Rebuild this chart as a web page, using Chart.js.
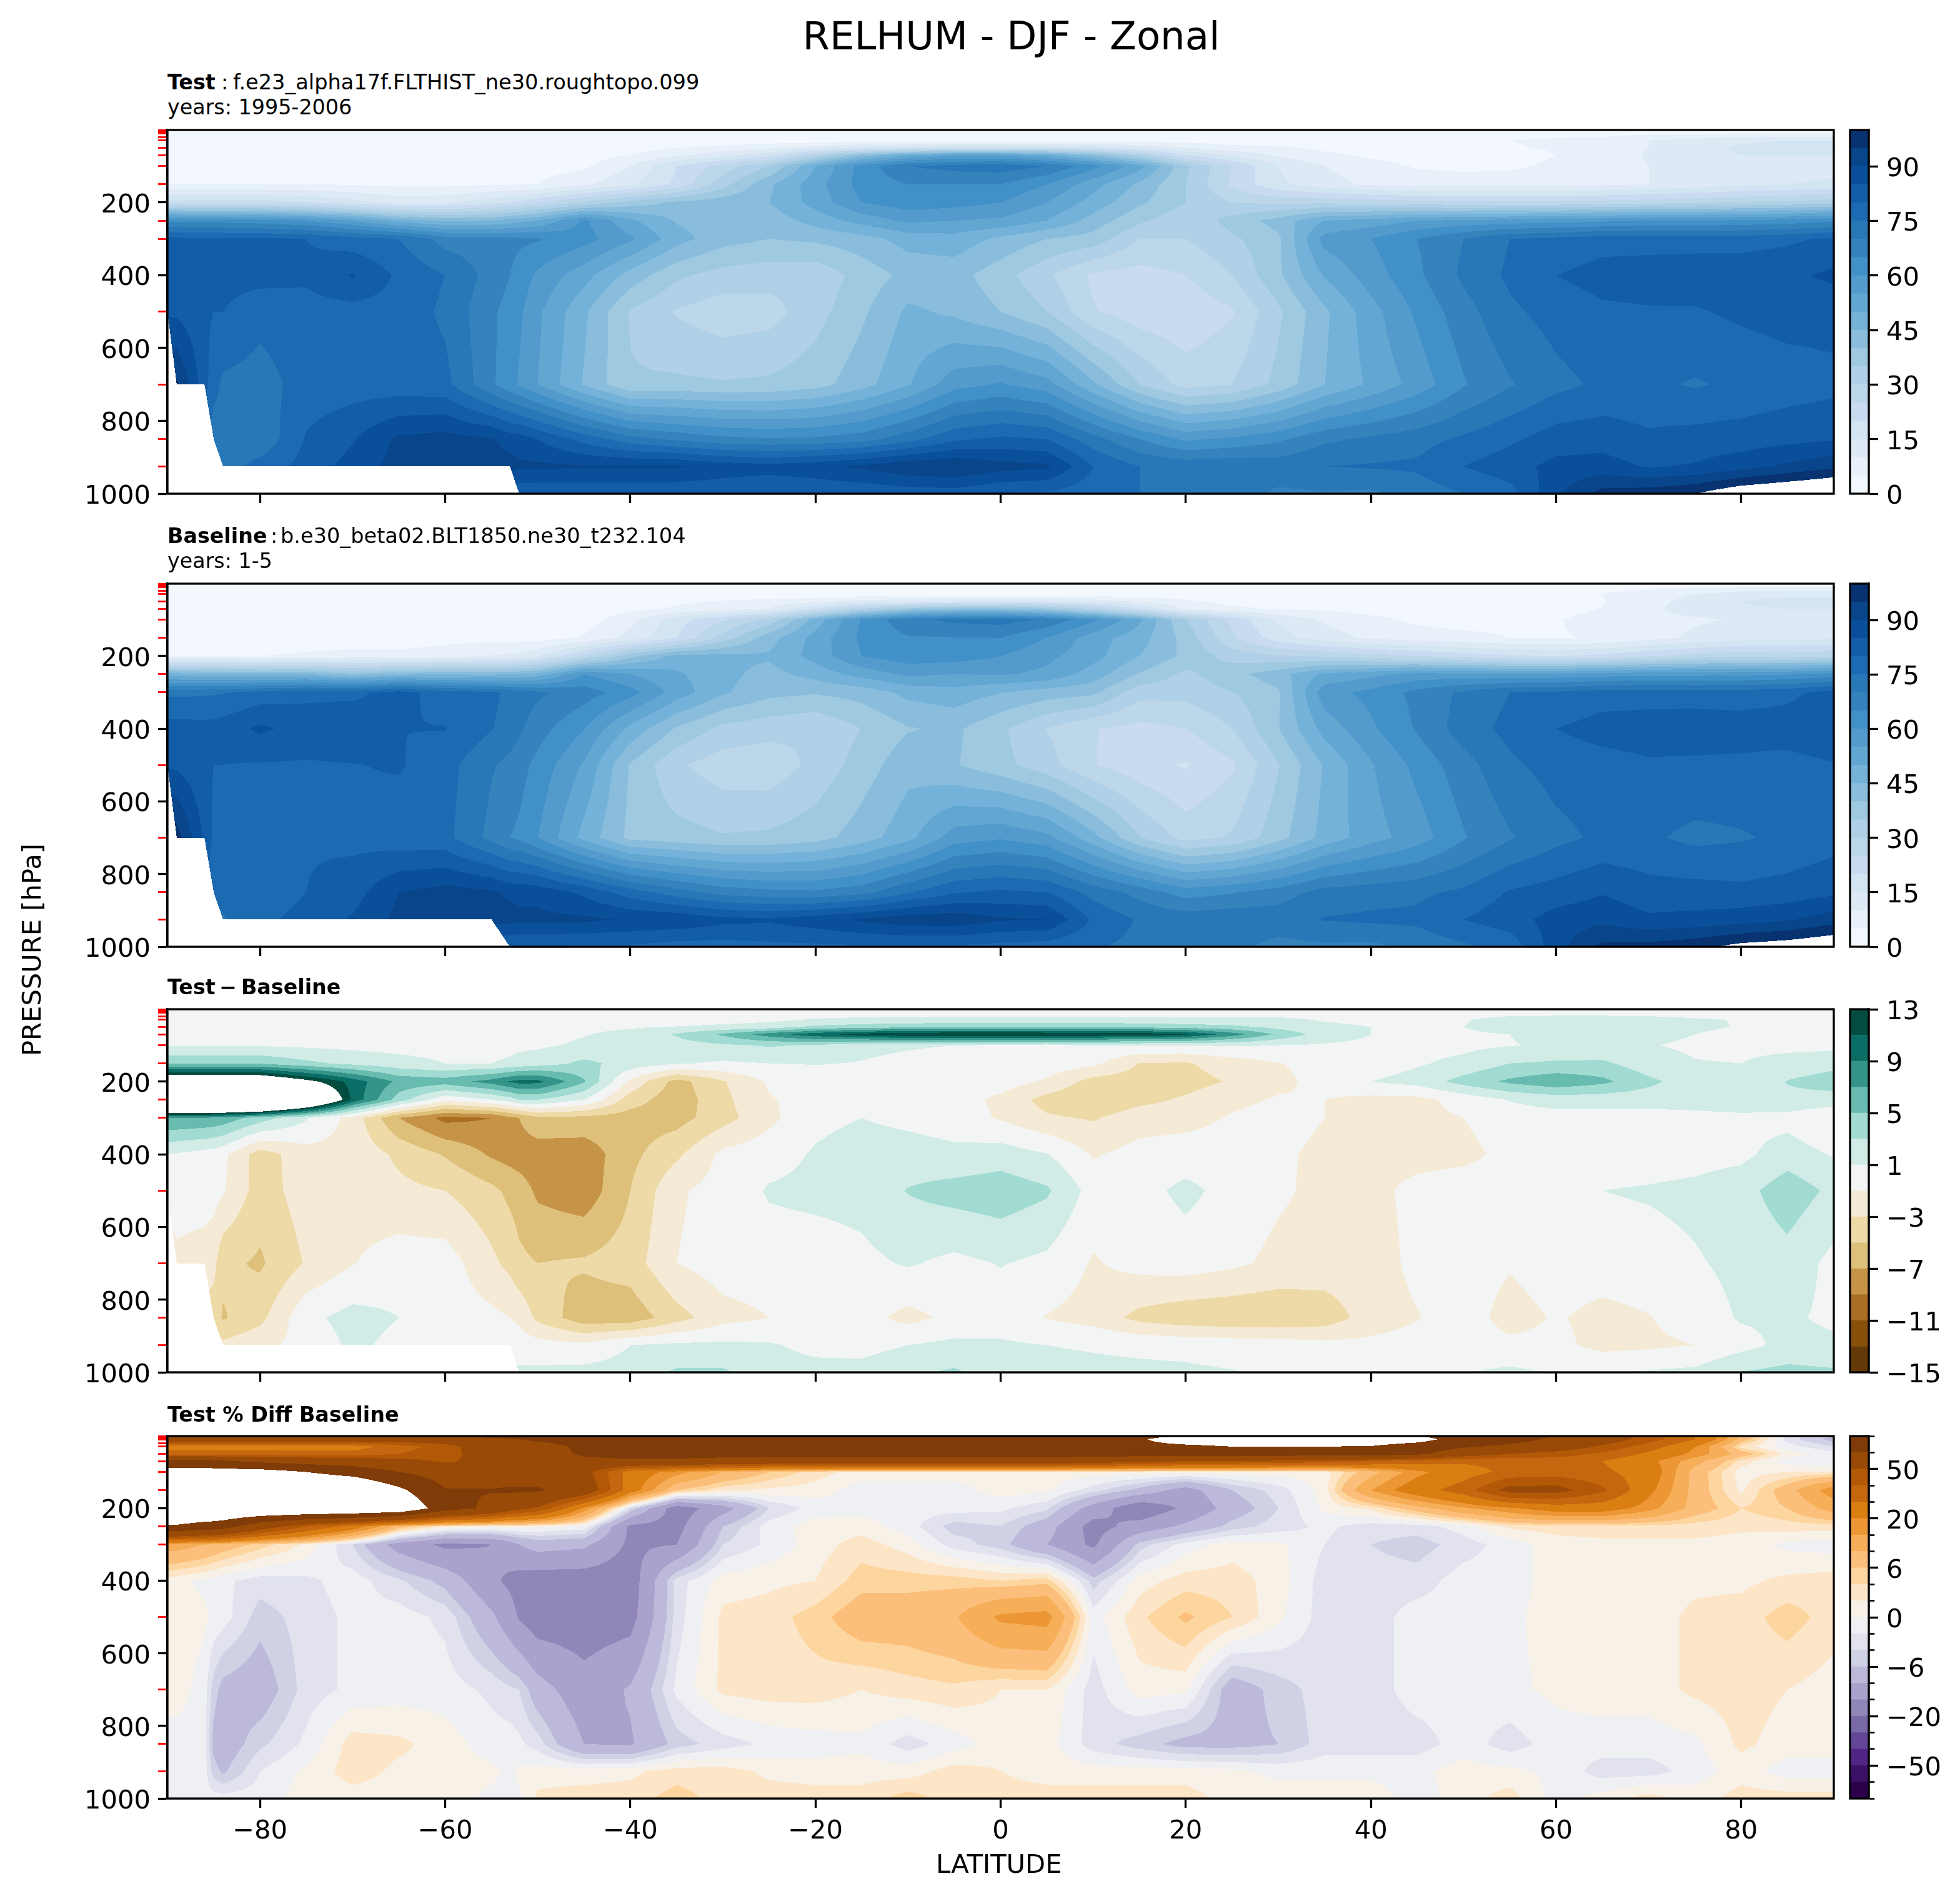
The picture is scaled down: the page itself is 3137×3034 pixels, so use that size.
<!DOCTYPE html>
<html>
<head>
<meta charset="utf-8">
<script src="https://cdn.jsdelivr.net/npm/chart.js@4"></script>
<style>
  body { margin: 0; background: #fff; width: 3137px; height: 3034px; position: relative; overflow: hidden; font-family: "DejaVu Sans"; }
  canvas { position: absolute; }
  .txt { position: absolute; white-space: pre; color: #000; }
</style>
</head>
<body>
<script>
const _ = null;
// grid of the zonal means
const lats = [-90,-89,-86,-85,-84,-80,-75,-70,-65,-60,-55,-53,-52,-50,-45,-40,-35,-30,-25,-20,-15,-10,-5,0,5,10,15,20,25,30,35,40,45,50,55,60,65,70,75,80,85,90];
const plevs = [1,10,30,50,70,100,150,200,250,300,400,500,700,850,925,1000];

const testRH = [
[1,1,1,1,1,1,1,1,1,1,1,1,1,1,1,1,1,1,1,1,1,1,1,1,1,1,1,1,1,1,1,1,1,2,2,2,2,2,3,3,3,3],
[1,1,1,1,1,1,1,1,1,1,1,1,1,1,1,1,1,1,1,1,2,2,2,2,2,2,2,2,1,1,1,1,1,2,2,3,3,4,4,5,5,5],
[1,1,1,1,1,1,1,1,1,1,1,1,1,1,1,1,1,1,2,2,3,3,3,3,3,3,3,3,2,2,2,2,2,3,5,6,7,10,12,14,15,15],
[1,1,1,1,1,1,1,1,1,1,1,1,1,1,2,3,5,7,9,12,16,18,20,20,20,18,14,10,7,6,4,3,3,3,4.5,5.5,6.5,10,13,16,17,17],
[2,2,2,2,2,2,2,2,2,2,2,2,2,2,3,5,9,13,18,30,42,50,54,54,50,42,32,20,14,9,6,4,3,2.5,3,5,7,10.5,13,15,15,15],
[2,2,2,2,2,2,2,2,2,2,2,2,2,3,4,10,20,27,35,50,62,70,72,73,70,62,52,36,25,15,10,7,4.5,3.5,4,6,8,10,10,11,12,13],
[5,5,5,5,5,5,5,4.5,4,4,4.5,4.6,4.7,5,9,14,21,33,44,53,62,65,65,65,60,52,44,35,24,16,12,9,8,8,8,8,9,10,12,14,15,16],
[22,22,22,22,22,22,20,17,13,14,18,20,21,24,31,37,41,43,45,52,60,63,62,60,55,48,41,35,30,29,29,28,27,26,26,26,27,28,29,30,31,33],
[64,64,63,63,63,62,60,55,48,44,45,47,48,50,61,51,44.5,43,42,47,52,56,55,54,50,43,36,31,37,42,50,52,55,56,57,58,59,60,60,61,62,64],
[81,81,81,81,81,81,80,77,75,68,67,66.5,66,65.5,62,56,47,42,40,41,43,47,48,44,40,38,30,30,34,39,57,60,65,70,75,76,78,78,78,78,79,81],
[83,83,82,82,82,82,81,85.5,79,75,68,65,63,59,52,43,36,33,32,31.5,37,41.5,42,37,31,24,23,25,30,39,50.5,57.5,64,71,76,80,82,82.5,83,83,84,86],
[84,84,81,80,80,76.5,78,78,78,74,66,63,61,56,46,34.5,29.5,27,28,33,39,46,44,40,35,25.5,22,21,24.5,34,44,53,61,68,74,77,79,79.5,79.5,81,82,82],
[_,96,82,77,74,73,77,77.5,77,76.5,66,61.5,59.5,55,44.5,35.5,36,35.5,36,38,43,49.5,58,60.5,57,46,35,28,30,36.5,45,51,57,64.5,69.5,73.5,76,76,74.5,76,77.5,78.5],
[_,_,_,72,72,71,80.5,84.5,91,92,90.5,88,87.5,85,78,72,69,66.5,65.5,66,68,73,79,81,80,72,65,59,61,64,69,71,73,76,79,82.5,83,81,82,82.5,83.5,84.5],
[_,_,_,_,72,77,82,87,92,93,92.5,92,91,91,90.5,90.5,90.5,88,87,88.5,91,94,95,92,91,80,75,73.5,74,73,75,75.5,76,80,83,86.5,87,84.5,85.5,88,91,94],
[_,_,_,_,_,_,_,_,_,_,_,_,81,81,81,81,81,81,80.5,80.5,81,82,82.5,80,79,77,75,73,72.5,69,69.5,69,72,75,78,89,97,98,100,105,107,109]
];

const baselineRH = [
[1,1,1,1,1,1,1,1,1,1,1,1,1,1,1,1,1,1,1,1,1,1,1,1,1,1,1,1,1,1,1,1,1,2,2,2,2,2,3,3,3,3],
[1,1,1,1,1,1,1,1,1,1,1,1,1,1,1,1,1,1,1,1,2,2,2,2,2,2,2,2,1,1,1,1,1,2,2,2,3,3,4,5,5,5],
[1,1,1,1,1,1,1,1,1,1,1,1,1,1,1,1,1,1,1,1,2,2,2,2,2,2,2,2,1,1,1,1,2,2,3,4,5,8,10,13,14,14],
[1,1,1,1,1,1,1,1,1,1,1,1,1,1,1.5,2,4,5.5,7,8.5,12,13.5,15,15,15,13,9.5,6,3.5,3.5,2.5,2,2,2,3,3.7,4.7,8.4,11.7,15,16.5,16.5],
[1.5,1.5,1.5,1.5,1.5,1.5,1.5,1.5,1.5,1.5,1.5,1.5,1.5,1.5,2,3.4,5.8,7.7,10,19.7,30,37.3,41,41,37.2,29.4,19.6,8.7,6,4.5,4,3,2.3,1.7,2,3.3,5.2,9,12,14.5,15,15],
[1,1,1,1,1,1,1.4,1.6,1.7,1.7,1.6,2,2,2.3,2.7,8.4,17.8,24.3,31.8,47.2,60.5,68.8,71.1,72.1,69.1,61,51,35,23.8,14,9.2,6.4,4,3,3.1,4.7,6.7,8.9,9.3,10.5,11.6,12.6],
[.3,.3,.3,.3,.3,.3,1.5,2,2.3,3,3.5,3.3,3.4,3,5.5,11.8,19.8,32.3,43,51.9,61.1,64.5,64.8,65,59.8,52.5,47.1,38.2,26,17.1,12.3,9,7.2,6.5,5,4.7,5.4,8.2,10.9,13,13.2,13.6],
[5,5,5,5,5,5,6,6.8,6.5,8,10.2,10.8,11.3,14.4,25.8,38.5,46.8,46.2,45.7,52,60,63,62.5,60,56.3,51.8,45,38.8,32.8,30.5,29.3,27,25.3,22.2,20.6,19.5,21.5,24.5,27.2,28.7,27.9,29.1],
[47,47,46,46,46,45,45,41,44,44.5,44,45,45,47,60,55,50.8,46.5,43.2,47,52,56,55,55.5,53.8,47.8,39.6,33.7,38.5,42.8,51,53.6,56.6,56.3,55.9,56.2,57.2,58.2,58,58.7,59.5,61.8],
[74,74,74.2,74.4,74.7,77,78.8,78.8,82,77.6,76,74,73,70.9,67.6,62,52.8,45.8,41.5,40.5,42,46.5,48,45.2,42.7,41.2,31.9,31.7,34.8,39.3,58,61.5,66.5,71,75,75.7,77.7,77.8,77.7,77.5,78.7,82],
[82,82.2,81.8,82,82.5,86,82.8,84,80,80.2,75.3,72.8,71,67.2,60.2,48.6,39.4,33.5,31.8,30.3,35.1,39.6,41,35.9,29.9,25.2,23.3,25,30,39.7,51.9,59.1,65.6,72.5,76.5,80,82,82.5,82.8,82.5,82.7,85.2],
[84.5,84,81,80,80,79.5,79.5,79.8,80.5,77,70.5,68.5,67,63.4,54.3,39.5,30.8,27.2,26.8,31.5,37.3,43.3,40.4,36.7,31.9,25.3,21.7,19.5,24.2,34.7,45.5,54.5,61.5,68,74,77,78,79.3,79,78.8,78,79.5],
[_,97.5,84,79,77,77.5,79.5,78.6,77,76.5,68.5,65,64,60,48.3,38.6,37,35.5,36,38,42.5,48.3,57.5,59.4,56.5,46.8,35.3,28,30.6,38,46.8,52.9,57.5,64.5,69.5,73.5,76,75.8,73.7,74.5,76,78],
[_,_,_,76,77,75.5,80,82.8,90,92,91,89,89,88.5,83.8,77.4,72.3,68.2,66.5,66,68.3,74.6,79.5,81,80,73.2,68.3,62.6,64.6,67.5,72,73,74,76,80.5,82.3,84.6,82.1,82,81.3,82.2,83.9],
[_,_,_,_,74.5,78.5,82.3,85.6,91.5,92.7,92.2,91.8,90.8,91.2,91,89.5,89.1,86.6,85.8,88,90.7,93,93.5,90.7,90,79.2,74.4,73,73.8,73,75.3,76,76.2,80,83,87,88.6,85.9,86.5,87.7,89.4,92.6],
[_,_,_,_,_,_,_,_,_,_,_,80,80,80,79.4,79.2,77.7,77.7,78.7,78.9,79.3,79.4,79.2,78.2,77.4,75.5,73.6,71.7,71.4,68.3,69,68.6,71.6,74.1,76.6,88.1,96.2,96.8,98.5,101.9,103.4,105.7]
];

const diffRH = [
[0,0,0,0,0,0,0,0,0,0,0,0,0,0,0,0,0,0,0,0,0,0,0,0,0,0,0,0,0,0,0,0,0,0,0,0,0,0,0,0,0,0],
[0,0,0,0,0,0,0,0,0,0,0,0,0,0,0,0,0,0,0,0,0,0,0,0,0,0,0,0,0,0,0,0,0,.3,.5,.6,.6,.5,.3,0,0,0],
[0,0,0,0,0,0,0,0,0,0,0,0,0,0,0,0,0,.2,.5,1.2,1.5,1.5,1.5,1.5,1.5,1.5,1.5,1.5,1.5,1.5,.8,.5,.5,.9,1.5,1.5,1.5,1.5,1.2,.9,.5,.5],
[0,0,0,0,0,0,0,0,0,0,0,0,0,0,.5,.8,1.1,1.5,2,3.5,4,4.5,4.8,4.8,4.8,4.8,4.5,4,3.5,2.5,1.5,1,.9,1,1.5,1.8,1.8,1.6,1.3,.9,.5,.5],
[.4,.4,.4,.4,.4,.4,.4,.4,.4,.4,.4,.4,.4,.4,.9,1.6,3.2,5.3,8,10.3,12,12.7,12.9,12.9,12.8,12.6,12.4,11.3,8,4.5,2,1,.7,.8,1,1.7,1.8,1.5,1,.5,.4,.4],
[.8,.8,.8,.8,.8,.8,.6,.4,.3,.3,.4,.5,.6,.7,1.3,1.6,2.2,2.7,3.2,2.8,1.5,1.2,1,.9,.9,1,1,1,1.2,1,.8,.6,.5,.5,.9,1.3,1.3,1.1,.7,.5,.4,.4],
[4.7,4.7,4.7,4.7,4.7,4.7,3.5,2.5,1.7,1,1,1.3,1.6,2,3.5,2.2,1.2,.7,1,1.1,.9,.5,.2,0,.2,-.5,-3.1,-3.2,-2,-1.1,-.3,0,.8,1.5,3,3.3,3.4,1.8,1.1,1,1.8,2.4],
[17.6,17.6,17.6,17.6,17.6,17.6,14,10.2,6.5,6,7.8,9.2,9.7,9.6,5.2,-1.5,-5.8,-3.2,-.7,0,0,0,-.5,0,-1.3,-3.8,-4,-3.8,-2.8,-1.5,-.3,1,1.7,3.8,5.4,6.5,5.5,3.5,1.8,1.3,3.1,3.9],
[30,30,30,30,30,30,22,10.5,4,-.5,1,2,3,3,1,-4,-6.3,-3.5,-1.2,0,0,0,0,-1.5,-3.8,-4.8,-3.6,-2.7,-1.5,-.8,-1,-1.6,-1.6,-.3,1.1,1.8,1.8,1.8,2,2.3,2.5,2.2],
[7,7,6.8,6.6,6.3,4,1.2,-1.8,-7,-9.6,-9,-7.5,-7,-5.4,-5.6,-6,-5.8,-3.8,-1.5,.5,1,.5,0,-1.2,-2.7,-3.2,-1.9,-1.7,-.8,-.3,-1,-1.5,-1.5,-1,0,.3,.3,.2,.3,.5,.3,-1],
[1,.8,.2,0,-.5,-4,-1.8,-1.6,-3.4,-5.2,-7.3,-7.8,-8,-8.2,-8.2,-5.6,-3.4,-.5,.2,1.2,1.9,1.9,1.5,2,1.1,-1.2,-.3,0,0,-.7,-1.4,-1.6,-1.6,-1.5,-.5,0,0,0,.2,.5,2,.8],
[-.5,0,0,-.2,-.8,-4,-2,-1.8,-2.5,-3,-4.5,-5.5,-6,-7.4,-8.3,-5,-1.3,-.2,1.2,1.5,1.7,3.1,3.8,4.2,3.3,.2,.3,1.5,.3,-.7,-1.5,-1.5,-.5,0,0,0,1,1.2,1.5,2.2,4.2,2.5],
[_,-1.5,-2,-2.4,-4.5,-5.3,-2.8,-1.1,0,0,-2.5,-3.6,-4.5,-5,-4.7,-4,-1,0,0,0,.5,1.2,.5,1.1,.5,-1.2,-.3,0,-.6,-1.5,-1.8,-1.9,-.5,0,-.8,0,0,.2,.8,1.5,2.2,.4],
[_,_,_,-4,-5.2,-3.6,.5,1.7,1,0,-.5,-1,-1.5,-3.5,-6.3,-6.3,-3.8,-1.7,-1,0,-.3,-1.6,-.5,0,-1.1,-1.8,-3.6,-4.4,-4.6,-4.7,-4.2,-2,-1.1,0,-1.8,-.8,-1.6,-1.1,0,1.2,1.3,.6],
[_,_,_,_,-2.5,-1.5,-.3,1.4,.5,.3,.3,.2,.2,-.2,-.5,1,1.4,1.4,1.2,.5,.3,1,1.5,1.3,1,.8,.6,.5,.2,0,-.3,-.5,-.2,0,-.5,-.5,-1.6,-1.4,-1,.3,1.6,1.4],
[_,_,_,_,_,_,_,_,_,_,_,_,1.3,1.4,1.6,1.8,3.3,3.3,1.8,1.6,1.7,2.6,3.3,1.8,1.6,1.5,1.4,1.3,1.1,.7,.5,.4,.4,.9,1.4,.9,.8,1.2,1.5,3.1,3.6,3.3]
];

const pctDiffRH = [
[85,85,85,85,85,85,85,85,85,85,85,88,88,90,92,92,92,92,92,92,92,92,92,92,92,92,95,100,105,105,105,103,100,90,85,75,60,45,30,10,-3,-6],
[60,60,60,60,60,60,60,60,60,60,65,72,75,80,85,90,92,92,92,92,92,92,92,92,92,92,98,110,112,112,112,112,108,90,85,70,58,45,30,8,-3,-7],
[25,25,25,25,25,25,25,25,35,45,60,62,63,65,80,88,90,90,90,90,90,90,90,90,90,92,95,96,100,100,100,99,90,78,70,60,48,35,20,3,-1,-4],
[34,34,34,34,34,34,34,34,40,47,55,58,60,65,78,85,85,85,85,85,85,85,85,85,85,85,85,85,85,85,85,85,80,60,50,45,38,28,18,8,1,-1],
[85,85,85,80,78,70,65,62,55,48,55,58,60,65,70,70,70,65,65,65,65,65,65,65,65,60,55,50,50,48,45,40,35,32,32,35,30,22,12,3,-1,-2],
[110,110,110,110,110,110,100,90,75,65,62,62,62,62,55,25,17,10,6,3,1,1,1,1,1,1,1,1,1,1,1,8,18,25,33,35,32,25,8,1,2,2],
[130,130,130,130,130,130,130,130,105,76,76,78,78,78,62,24,6,2.5,1.5,1,-1,-1,-1,1,.5,-3,-7,-12,-6,-3,1,15,25,35,55,55,42,22,8,1.5,8,18],
[130,130,130,130,130,130,130,130,125,85,70,58,54,48,18,-4,-18,-12,-4,-1,-.8,-1,-1,-1.5,-3.5,-12,-19,-14,-8,-4,.5,2.5,8,14,19,24,24,17,8,4,6,12],
[97,97,90,88,85,60,40,25,8,2,1,1,1,.5,-.5,-16,-17,-6,-1,1,1,-1,-5,-4,-8,-17,-13,-9,-5,-3,-1.5,-3,-3,-1,2.5,3,3,3,3,2.5,3,3],
[12,12,10,9,8,5,1.5,-4,-12,-16,-15,-12,-10,-8,-9,-16,-15,-4,-1.5,1,3,1,-3,-5,-10,-16,-5,-1,1,.5,-2,-4,-5,-3,-1,1,1.5,1.5,1.5,1,-.5,-1],
[1,.5,-.5,-1,-1.5,-3,-2.5,-1,-3.5,-7,-14,-16,-17,-18,-18,-18,-3,1,1.5,2,5,5,5,4,5,-5,1,3,3,1,-3,-3,-3,-1,-1,1,1,1,1.5,1.5,2.5,3],
[1,1,.5,-.5,-1,-5,-3,-1.5,-1,-2.5,-9,-13,-15.5,-18,-18,-17,-3,2.5,3,5,8,8,9.5,16,17,-1,3.5,6.5,4,.5,-3,-3,-1,-1,-.5,1,1,1,2.5,3,5,3],
[1,1,-1,-5,-7,-8,-3,-1.5,-1,-1,-2.5,-3.5,-4,-8,-13,-9.5,-1.5,2.5,3,3,2,3,3.5,2,2,-3,1,.5,-8,-5,-3,-3,-1,-1,-.5,.5,1,1,2.5,3,2,1],
[-1,-1,-1,-7,-8,-4.5,-1.5,3,2.5,1,-1,-1,-1.5,-3,-10,-10.5,-5,-3,-1.5,-1,-.5,-3,-1,1,1,-3,-5,-7,-7,-6,-3,-3,-3,-1,-3,-1,-1,-1,-.5,2.5,1,1],
[-1,-1,-1,-5,-6.5,-2,.5,3,1.5,1,.5,-.5,.5,1,1,1.5,3,3,1.5,1,1,1,3,2,1,1,1,1,.5,-.5,-.5,-.5,-.5,1,.5,-.5,-3,-3,-1,1,-1,-1],
[-1,-1,-1,-1,-1,-1,1,1,1,1,-.5,-.5,-.5,2.5,3,3,5,3,3,3,3,5,3,3,3,3,3,3,1,1,1,1,-1,1,3,-1,1,3,1,3,3,3]
];

// contour levels and colours
const rhLevels = [0,5,10,15,20,25,30,35,40,45,50,55,60,65,70,75,80,85,90,95,100];
const rhColors = ['#f3f8fe','#e8f0f9','#dde9f5','#d3e4f2','#c9dbf1','#bdd7ea','#afd0e6','#9fc9e0','#8abddc','#74b2d9','#62a6d2','#529bcc','#4190c7','#3582bd','#2878b8','#1c6ab1','#135da8','#0a4f9a','#08458a','#083370'];
const diffLevels = [-15,-13,-11,-9,-7,-5,-3,-1,1,3,5,7,9,11,13];
const diffColors = ['#633a07','#87500a','#aa6e22','#c69447','#dec07b','#eddaa7','#f5ead6','#f3f5f4','#d1ece7','#a1dbd1','#68bbaf','#359489','#0a6d66','#024c40'];
const pctLevels = [-100,-75,-50,-40,-30,-20,-15,-10,-6,-4,-2,0,2,4,6,10,15,20,30,40,50,75,100];
const pctColors = ['#2d004b','#3b1167','#512585','#634695','#7a69a7','#9186b8','#aaa1cc','#bcb9da','#cfd1e5','#e1e2ee','#eff0f4','#f7f1e7','#fde5c8','#fdd69f','#fcbf7b','#f6ae58','#ec9635','#db7e12','#c5670e','#b35806','#9a4a07','#7f3b08'];

// tick labels
const latTicks = [-80,-60,-40,-20,0,20,40,60,80];
const pressureLabels = [200,400,600,800,1000];
const redLevels = [1,2,3,5,7,10,20,30,50,70,100,150,250,300,500,700,850,925];
const rhCbarTicks = [0,15,30,45,60,75,90];
const diffCbarTicks = [-15,-11,-7,-3,1,5,9,13];
const pctCbarLabels = [-50,-20,-6,0,6,20,50];

Chart.defaults.font.family = '"DejaVu Sans"';
Chart.defaults.font.size = 41.67;
Chart.defaults.color = '#000';
Chart.defaults.animation = false;

const LINE = 3.3;
const PLOT_LEFT = 268, PLOT_RIGHT = 2935, CB_LEFT = 2961, CB_RIGHT = 2991;
const minus = s => String(s).replace('-', '\u2212');

function hexToRgb(h) {
  return [parseInt(h.slice(1,3),16), parseInt(h.slice(3,5),16), parseInt(h.slice(5,7),16)];
}

// fills the plot rectangle cell by cell, the value between grid nodes decides the band
const contourFill = {
  id: 'contourFill',
  beforeDatasetsDraw(chart) {
    const ds = chart.data.datasets[0];
    const xs = chart.scales.x, ys = chart.scales.y, a = chart.chartArea;
    const left = Math.round(a.left), top = Math.round(a.top);
    const w = Math.round(a.right) - left, h = Math.round(a.bottom) - top;
    const img = chart.ctx.createImageData(w, h);
    const rgb = ds.bandColors.map(hexToRgb);
    const lv = ds.bandLevels, nc = lats.length;
    const val = (i, j) => ds.data[j * nc + i].v;
    for (let j = 0; j < plevs.length - 1; j++) {
      const y0 = ys.getPixelForValue(plevs[j]), y1 = ys.getPixelForValue(plevs[j + 1]);
      for (let i = 0; i < nc - 1; i++) {
        const x0 = xs.getPixelForValue(lats[i]), x1 = xs.getPixelForValue(lats[i + 1]);
        const c = [val(i, j), val(i + 1, j), val(i, j + 1), val(i + 1, j + 1)];
        const missing = c.map((v, k) => v === null ? k : -1).filter(k => k >= 0);
        if (missing.length > 1) continue;
        let ou = 0, ov = 0, o = 0, n1 = 0, n2 = 0;
        if (missing.length === 1) {
          const m = missing[0], mu = m & 1, mv = m >> 1;
          ou = 1 - mu; ov = 1 - mv;
          o = c[ou + 2 * ov]; n1 = c[ou + 2 * mv]; n2 = c[mu + 2 * ov];
        }
        for (let py = Math.ceil(y0 - 0.5); py < Math.ceil(y1 - 0.5); py++) {
          if (py < top || py >= top + h) continue;
          const v = (py + 0.5 - y0) / (y1 - y0);
          for (let px = Math.ceil(x0 - 0.5); px < Math.ceil(x1 - 0.5); px++) {
            if (px < left || px >= left + w) continue;
            const u = (px + 0.5 - x0) / (x1 - x0);
            let f;
            if (missing.length === 1) {
              const du = Math.abs(u - ou), dv = Math.abs(v - ov);
              if (du + dv > 1) continue;
              f = o + du * (n2 - o) + dv * (n1 - o);
            } else {
              f = (c[0] * (1 - u) + c[1] * u) * (1 - v) + (c[2] * (1 - u) + c[3] * u) * v;
            }
            if (f < lv[0] || f > lv[lv.length - 1]) continue;
            let b = 0;
            while (b < lv.length - 2 && f >= lv[b + 1]) b++;
            const p = ((py - top) * w + px - left) * 4;
            img.data[p] = rgb[b][0]; img.data[p + 1] = rgb[b][1]; img.data[p + 2] = rgb[b][2]; img.data[p + 3] = 255;
          }
        }
      }
    }
    chart.ctx.putImageData(img, left, top);
  }
};

// box round the axes
const frame = {
  id: 'frame',
  afterDraw(chart) {
    const a = chart.chartArea, ctx = chart.ctx;
    ctx.save();
    ctx.strokeStyle = '#000';
    ctx.lineWidth = LINE;
    ctx.strokeRect(a.left, a.top, a.right - a.left, a.bottom - a.top);
    ctx.restore();
  }
};

function newCanvas(left, top, w, h) {
  const c = document.createElement('canvas');
  c.width = w; c.height = h;
  c.style.left = left + 'px'; c.style.top = top + 'px';
  document.body.appendChild(c);
  return c;
}

function panel(rows, levels, colors, top, bottom, showLat) {
  const pad = 10, below = 130;
  const points = [];
  rows.forEach((row, j) => row.forEach((v, i) => points.push({ x: lats[i], y: plevs[j], v: v })));
  const canvas = newCanvas(0, top - pad, PLOT_RIGHT + 10, bottom - top + pad + below);
  return new Chart(canvas, {
    type: 'scatter',
    data: { datasets: [{ data: points, pointRadius: 0, showLine: false, bandLevels: levels, bandColors: colors }] },
    options: {
      responsive: false,
      devicePixelRatio: 1,
      layout: { autoPadding: false, padding: { top: pad, right: 10, left: 0, bottom: 0 } },
      plugins: { legend: { display: false }, tooltip: { enabled: false } },
      scales: {
        x: {
          type: 'linear', min: -90, max: 90,
          afterBuildTicks: s => { s.ticks = latTicks.map(v => ({ value: v })); },
          afterFit: s => { s.height = below; s.paddingLeft = 0; s.paddingRight = 0; },
          border: { color: '#000', width: LINE },
          grid: { drawOnChartArea: false, tickColor: '#000', tickWidth: LINE, tickLength: 15 },
          ticks: { autoSkip: false, maxRotation: 0, padding: 13, callback: v => showLat ? minus(v) : '' }
        },
        y: {
          type: 'linear', reverse: true, min: 1, max: 1000,
          afterBuildTicks: s => {
            s.ticks = redLevels.concat(pressureLabels).sort((p, q) => p - q).map(v => ({ value: v }));
          },
          afterFit: s => { s.width = PLOT_LEFT; s.paddingTop = 0; s.paddingBottom = 0; },
          border: { color: '#000', width: LINE },
          grid: {
            drawOnChartArea: false, tickLength: 15,
            tickColor: c => pressureLabels.includes(c.tick.value) ? '#000' : '#ff0000',
            tickWidth: c => pressureLabels.includes(c.tick.value) ? LINE : 2.8
          },
          ticks: { autoSkip: false, padding: 12, labelOffset: 5, callback: v => pressureLabels.includes(v) ? String(v) : '' }
        }
      }
    },
    plugins: [contourFill, frame]
  });
}

function colorbar(levels, colors, top, bottom, opt) {
  const padTop = 30, padBottom = 30, padLeft = 11;
  const canvas = newCanvas(CB_LEFT - padLeft, top - padTop, 3137 - CB_LEFT + padLeft, bottom - top + padTop + padBottom);
  const byIndex = opt.byIndex;
  const yOf = k => byIndex ? k : levels[k];
  const datasets = colors.map((c, k) => ({
    data: [[yOf(k), yOf(k + 1)]], backgroundColor: c, borderWidth: 0,
    barPercentage: 1, categoryPercentage: 1, grouped: false
  }));
  return new Chart(canvas, {
    type: 'bar',
    data: { labels: [''], datasets: datasets },
    options: {
      responsive: false,
      devicePixelRatio: 1,
      layout: { autoPadding: false, padding: { top: padTop, bottom: padBottom, left: padLeft, right: 0 } },
      plugins: { legend: { display: false }, tooltip: { enabled: false } },
      scales: {
        x: { display: false },
        y: {
          position: 'right',
          min: yOf(0), max: yOf(levels.length - 1),
          afterBuildTicks: s => { s.ticks = opt.ticks.map(v => ({ value: v })); },
          afterFit: s => { s.width = 3137 - CB_RIGHT; s.paddingTop = 0; s.paddingBottom = 0; },
          border: { color: '#000', width: LINE },
          grid: {
            drawOnChartArea: false, tickColor: '#000', tickWidth: c => opt.isMajor(c.tick.value) ? LINE : 2.6, tickLength: 15,
            tickBorderDash: c => opt.isMajor(c.tick.value) ? [] : [8, 40]
          },
          ticks: { autoSkip: false, padding: 13, labelOffset: 5, callback: v => opt.label(v) }
        }
      }
    },
    plugins: [frame]
  });
}

function addText(text, left, top, size, weight) {
  const d = document.createElement('div');
  d.className = 'txt';
  d.textContent = text;
  d.style.cssText = 'left:' + left + 'px;top:' + top + 'px;font-size:' + size + 'px;line-height:' + Math.round(size * 1.2) + 'px;font-weight:' + (weight || 'normal');
  document.body.appendChild(d);
  return d;
}

const rhBarOpt = { ticks: rhCbarTicks, isMajor: () => true, label: v => String(v) };
const diffBarOpt = { ticks: diffCbarTicks, isMajor: () => true, label: v => minus(v) };
const pctBarOpt = {
  byIndex: true,
  ticks: pctLevels.map((v, k) => k),
  isMajor: k => pctCbarLabels.includes(pctLevels[k]),
  label: k => pctCbarLabels.includes(pctLevels[k]) ? minus(pctLevels[k]) : ''
};

panel(testRH, rhLevels, rhColors, 208, 790, false);
colorbar(rhLevels, rhColors, 208, 790, rhBarOpt);
panel(baselineRH, rhLevels, rhColors, 934, 1515, false);
colorbar(rhLevels, rhColors, 934, 1515, rhBarOpt);
panel(diffRH, diffLevels, diffColors, 1615, 2196, false);
colorbar(diffLevels, diffColors, 1615, 2196, diffBarOpt);
panel(pctDiffRH, pctLevels, pctColors, 2298, 2878, true);
colorbar(pctLevels, pctColors, 2298, 2878, pctBarOpt);

// figure text
const sup = addText('RELHUM - DJF - Zonal', 0, 20, 62.5);
sup.style.width = '3137px'; sup.style.textAlign = 'center'; sup.style.left = '50px';
addText('Test', 268, 112, 33.33, 'bold');
addText(':', 354, 112, 33.6);
addText('f.e23_alpha17f.FLTHIST_ne30.roughtopo.099', 373, 112, 33.6);
addText('years: 1995-2006', 268, 152, 33.33);
addText('Baseline', 268, 838, 33.33, 'bold');
addText(':', 433, 838, 33.6);
addText('b.e30_beta02.BLT1850.ne30_t232.104', 449, 838, 33.6);
addText('years: 1-5', 268, 878, 33.33);
addText('Test\u2009\u2212\u2009Baseline', 268, 1560, 33.33, 'bold');
addText('Test % Diff Baseline', 268, 2244, 33.33, 'bold');
addText('LATITUDE', 1498, 2958, 41.67);
const yl = addText('PRESSURE [hPa]', 26, 1520, 41.67);
yl.style.transformOrigin = '0 0';
yl.style.transform = 'rotate(-90deg) translate(-50%, 0)';
</script>
</body>
</html>
